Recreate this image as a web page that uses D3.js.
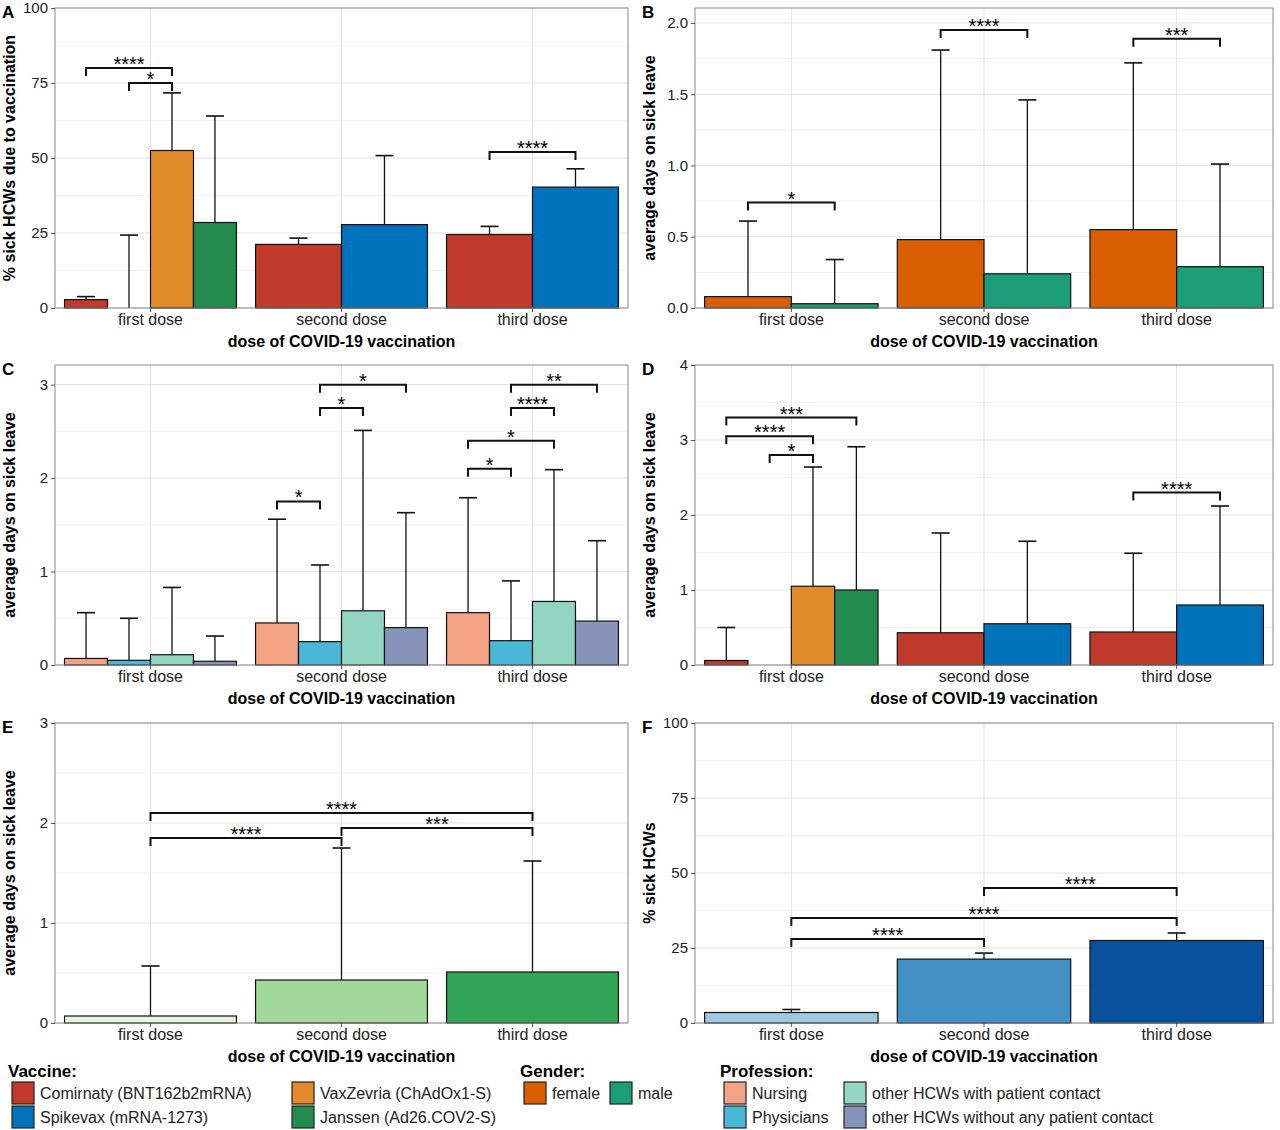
<!DOCTYPE html>
<html><head><meta charset="utf-8">
<script src="https://cdn.jsdelivr.net/npm/d3@7"></script>
<style>body{margin:0;background:#fff}text{font-family:"Liberation Sans",Arial,sans-serif}</style>
</head><body><svg id="c" width="1280" height="1130"></svg>
<script>
const doses = ["first dose","second dose","third dose"];
const vaccines = ["Comirnaty (BNT162b2mRNA)","Spikevax (mRNA-1273)","VaxZevria (ChAdOx1-S)","Janssen (Ad26.COV2-S)"];
const vaccineColors = ["#C0392B","#0072BB","#E08A2A","#238B4E"];
const genders = ["female","male"];
const genderColors = ["#D95F02","#1B9E77"];
const professions = ["Nursing","Physicians","other HCWs with patient contact","other HCWs without any patient contact"];
const professionColors = ["#F4A284","#4AB7D6","#92D5C3","#8793B8"];
const doseGreens = ["#E5F5E0","#A1D99B","#31A354"];
const doseBlues = ["#9ECAE1","#4292C6","#08519C"];

// [dose, group index, mean, upper error]
const dataA = [[0,0,2.8,3.8],[0,1,0,24.3],[0,2,52.5,71.7],[0,3,28.5,64],[1,0,21.2,23.3],[1,1,27.8,50.8],[2,0,24.5,27.2],[2,1,40.3,46.4]];
const dataB = [[0,0,0.08,0.61],[0,1,0.03,0.34],[1,0,0.48,1.81],[1,1,0.24,1.46],[2,0,0.55,1.72],[2,1,0.29,1.01]];
const dataC = [[0,0,0.07,0.56],[0,1,0.05,0.50],[0,2,0.11,0.83],[0,3,0.04,0.31],[1,0,0.45,1.56],[1,1,0.25,1.07],[1,2,0.58,2.51],[1,3,0.40,1.63],[2,0,0.56,1.79],[2,1,0.26,0.90],[2,2,0.68,2.09],[2,3,0.47,1.33]];
const dataD = [[0,0,0.06,0.5],[0,1,0,0],[0,2,1.05,2.64],[0,3,1.0,2.91],[1,0,0.43,1.76],[1,1,0.55,1.65],[2,0,0.44,1.49],[2,1,0.80,2.12]];
const dataE = [[0,0,0.07,0.57],[1,0,0.43,1.75],[2,0,0.51,1.62]];
const dataF = [[0,0,3.5,4.5],[1,0,21.3,23.3],[2,0,27.5,30]];
// brackets: [dose1, bar1, dose2, bar2, y, label]
const brA = [[0,0,0,2,80,"****"],[0,1,0,2,75,"*"],[2,0,2,1,52,"****"]];
const brB = [[0,0,0,1,0.74,"*"],[1,0,1,1,1.95,"****"],[2,0,2,1,1.89,"***"]];
const brC = [[1,0,1,1,1.75,"*"],[1,1,1,2,2.75,"*"],[1,1,1,3,3.0,"*"],[2,0,2,1,2.1,"*"],[2,0,2,2,2.4,"*"],[2,1,2,2,2.75,"****"],[2,1,2,3,3.0,"**"]];
const brD = [[0,0,0,3,3.3,"***"],[0,0,0,2,3.05,"****"],[0,1,0,2,2.8,"*"],[2,0,2,1,2.3,"****"]];
const brE = [[0,0,2,0,2.1,"****"],[0,0,1,0,1.85,"****"],[1,0,2,0,1.95,"***"]];
const brF = [[1,0,2,0,45,"****"],[0,0,2,0,35,"****"],[0,0,1,0,28,"****"]];

const svg = d3.select("#c");
function panel(o){
  const g = svg.append("g");
  const x = d3.scaleBand().domain(doses.map((d,i)=>i)).range([o.x0,o.x1]).paddingInner(0.1).paddingOuter(0.05);
  const y = d3.scaleLinear().domain([0,o.ymax]).range([o.y1,o.y0]);
  // grid
  const minor = d3.range(o.step/2,o.ymax,o.step);
  g.selectAll(".mn").data(minor).join("line").attr("x1",o.x0).attr("x2",o.x1).attr("y1",d=>y(d)).attr("y2",d=>y(d)).attr("stroke","#f2f2f2");
  g.selectAll(".mj").data(o.ticks).join("line").attr("x1",o.x0).attr("x2",o.x1).attr("y1",d=>y(d)).attr("y2",d=>y(d)).attr("stroke","#e3e3e3");
  g.selectAll(".vx").data(doses.map((d,i)=>i)).join("line").attr("x1",d=>x(d)+x.bandwidth()/2).attr("x2",d=>x(d)+x.bandwidth()/2).attr("y1",o.y0).attr("y2",o.y1).attr("stroke","#e3e3e3");
  const nIn = d=>o.data.filter(e=>e[0]===d).length;
  const bx = (d,k)=>{const n=nIn(d);const w=x.bandwidth()/n;return [x(d)+k*w,w];};
  // error bars
  o.data.forEach(e=>{const [bxx,w]=bx(e[0],e[1]);const cx=bxx+w/2;
    if(e[3]>e[2]||e[3]>0){g.append("line").attr("x1",cx).attr("x2",cx).attr("y1",y(e[2])).attr("y2",y(e[3])).attr("stroke","#111").attr("stroke-width",1.3);
    g.append("line").attr("x1",cx-9).attr("x2",cx+9).attr("y1",y(e[3])).attr("y2",y(e[3])).attr("stroke","#111").attr("stroke-width",1.6);}
  });
  o.data.forEach(e=>{const [bxx,w]=bx(e[0],e[1]);
    if(e[2]>0) g.append("rect").attr("x",bxx).attr("width",w).attr("y",y(e[2])).attr("height",y(0)-y(e[2])).attr("fill",o.colors(e)).attr("stroke","#111").attr("stroke-width",1.2);
  });
  // brackets
  o.br.forEach(b=>{const [a1,w1]=bx(b[0],b[1]);const [a2,w2]=bx(b[2],b[3]);const xa=a1+w1/2,xb=a2+w2/2,yy=y(b[4]);
    g.append("path").attr("d",`M${xa},${yy+8}V${yy}H${xb}V${yy+8}`).attr("fill","none").attr("stroke","#111").attr("stroke-width",2);
    g.append("text").attr("x",(xa+xb)/2).attr("y",yy+3).attr("text-anchor","middle").attr("font-size",20).text(b[5]);
  });
  g.append("rect").attr("x",o.x0).attr("y",o.y0).attr("width",o.x1-o.x0).attr("height",o.y1-o.y0).attr("fill","none").attr("stroke","#8a8a8a");
  const ya = g.append("g").attr("transform",`translate(${o.x0},0)`).call(d3.axisLeft(y).tickValues(o.ticks).tickFormat(o.fmt).tickSize(4));
  ya.select(".domain").remove(); ya.selectAll("line").attr("stroke","#555");
  ya.selectAll("text").attr("font-size",15).attr("fill","#222").attr("font-family","Liberation Sans");
  const xa = g.append("g").attr("transform",`translate(0,${o.y1})`).call(d3.axisBottom(x).tickFormat(i=>doses[i]).tickSize(4));
  xa.select(".domain").remove(); xa.selectAll("line").attr("stroke","#555");
  xa.selectAll("text").attr("font-size",16).attr("fill","#222").attr("dy","0.6em").attr("font-family","Liberation Sans");
  g.append("text").attr("x",(o.x0+o.x1)/2).attr("y",o.y1+39).attr("text-anchor","middle").attr("font-size",16).attr("font-weight","bold").text("dose of COVID-19 vaccination");
  g.append("text").attr("transform",`translate(${o.x0-40},${(o.y0+o.y1)/2}) rotate(-90)`).attr("text-anchor","middle").attr("font-size",16).attr("font-weight","bold").text(o.ytitle);
  g.append("text").attr("x",o.x0-53).attr("y",o.y0+10).attr("font-size",17).attr("font-weight","bold").text(o.letter);
}
const L=[55,628],R=[695,1273];
panel({letter:"A",x0:L[0],x1:L[1],y0:8,y1:308,ymax:100,step:25,ticks:[0,25,50,75,100],fmt:d3.format("d"),data:dataA,colors:e=>vaccineColors[e[1]],br:brA,ytitle:"% sick HCWs due to vaccination"});
panel({letter:"B",x0:R[0],x1:R[1],y0:8,y1:308,ymax:2.105,step:0.5,ticks:[0,0.5,1,1.5,2],fmt:d3.format(".1f"),data:dataB,colors:e=>genderColors[e[1]],br:brB,ytitle:"average days on sick leave"});
panel({letter:"C",x0:L[0],x1:L[1],y0:365,y1:665,ymax:3.21,step:1,ticks:[0,1,2,3],fmt:d3.format("d"),data:dataC,colors:e=>professionColors[e[1]],br:brC,ytitle:"average days on sick leave"});
panel({letter:"D",x0:R[0],x1:R[1],y0:365,y1:665,ymax:4,step:1,ticks:[0,1,2,3,4],fmt:d3.format("d"),data:dataD,colors:e=>vaccineColors[e[1]],br:brD,ytitle:"average days on sick leave"});
panel({letter:"E",x0:L[0],x1:L[1],y0:723,y1:1023,ymax:3,step:1,ticks:[0,1,2,3],fmt:d3.format("d"),data:dataE,colors:e=>doseGreens[e[0]],br:brE,ytitle:"average days on sick leave"});
panel({letter:"F",x0:R[0],x1:R[1],y0:723,y1:1023,ymax:100,step:25,ticks:[0,25,50,75,100],fmt:d3.format("d"),data:dataF,colors:e=>doseBlues[e[0]],br:brF,ytitle:"% sick HCWs"});

// legends
function legend(x,title,items,colors,cols){
  const g=svg.append("g");
  g.append("text").attr("x",x).attr("y",1077).attr("font-size",17).attr("font-weight","bold").text(title);
  items.forEach((t,i)=>{const c=Math.floor(i/2)*0,row=i%2,col=Math.floor(i/2);
    const xx=x+4+cols[col],yy=1082+row*24;
    g.append("rect").attr("x",xx).attr("y",yy).attr("width",22).attr("height",22).attr("fill",colors[i]).attr("stroke","#222").attr("stroke-width",1.2);
    g.append("text").attr("x",xx+28).attr("y",yy+17).attr("font-size",16).attr("fill","#222").text(t);
  });
}
legend(8,"Vaccine:",vaccines,vaccineColors,[0,280]);
legend(520,"Gender:",genders,genderColors,[0,86]);
// gender is one row: place manually via custom order
svg.selectAll("g").filter(function(){return d3.select(this).select("text").text()==="Gender:";}).each(function(){
  const g=d3.select(this);const rs=g.selectAll("rect").nodes(),ts=g.selectAll("text").nodes().slice(1);
  d3.select(rs[1]).attr("x",610).attr("y",1082);d3.select(ts[1]).attr("x",638).attr("y",1099);
});
legend(720,"Profession:",professions,professionColors,[0,120]);
</script></body></html>
